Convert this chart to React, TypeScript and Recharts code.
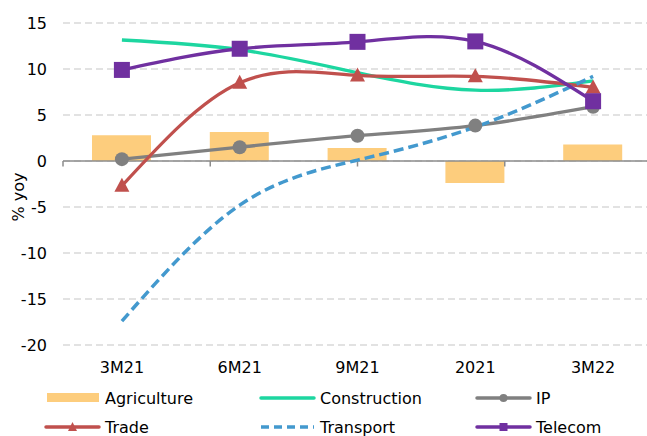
import React from 'react';
import { ComposedChart, Bar, Line, XAxis, YAxis, CartesianGrid, ReferenceLine, Legend, Label } from 'recharts';

// Growth by sector, % yoy
const periods = ['3M21', '6M21', '9M21', '2021', '3M22'];
const agriculture = [2.8, 3.15, 1.4, -2.4, 1.8];
const construction = [13.15, 12.1, 9.6, 7.7, 8.7];
const ip = [0.2, 1.5, 2.75, 3.85, 5.9];
const trade = [-2.7, 8.5, 9.3, 9.2, 8.0];
const transport = [-17.4, -4.8, 0.1, 3.7, 9.2];
const telecom = [9.9, 12.2, 12.95, 13.0, 6.5];
const yTicks = [-20, -15, -10, -5, 0, 5, 10, 15];
// category boundaries for the small ticks on the zero line
const boundaries = [0, 1, 2, 3, 4, 5];

const chartData = periods.map((period, i) => ({
  period,
  agriculture: agriculture[i],
  construction: construction[i],
  ip: ip[i],
  trade: trade[i],
  transport: transport[i],
  telecom: telecom[i],
}));

const FONT = '"DejaVu Sans", Verdana, sans-serif';
const FONT_SIZE = 16;

const COLORS = {
  agriculture: '#FDCD7D',
  construction: '#1DD6A0',
  ip: '#808080',
  trade: '#C0504D',
  transport: '#4399CE',
  telecom: '#7030A0',
};

const legendItems = [
  { name: 'Agriculture', color: COLORS.agriculture, kind: 'bar' },
  { name: 'Construction', color: COLORS.construction, kind: 'line' },
  { name: 'IP', color: COLORS.ip, kind: 'circle' },
  { name: 'Trade', color: COLORS.trade, kind: 'triangle' },
  { name: 'Transport', color: COLORS.transport, kind: 'dashed' },
  { name: 'Telecom', color: COLORS.telecom, kind: 'square' },
];

const CircleDot = (props: any) => {
  const { cx, cy, index } = props;
  if (cx == null || cy == null) return null;
  return <circle key={`ip-${index}`} cx={cx} cy={cy} r={7} fill={COLORS.ip} />;
};

const TriangleDot = (props: any) => {
  const { cx, cy, index } = props;
  if (cx == null || cy == null) return null;
  const pts = `${cx},${cy - 8} ${cx + 7.5},${cy + 6} ${cx - 7.5},${cy + 6}`;
  return <polygon key={`tr-${index}`} points={pts} fill={COLORS.trade} />;
};

const SquareDot = (props: any) => {
  const { cx, cy, index } = props;
  if (cx == null || cy == null) return null;
  return <rect key={`tc-${index}`} x={cx - 8} y={cy - 8} width={16} height={16} fill={COLORS.telecom} />;
};

function LegendMarker({ kind, color, x, y }: { kind: string; color: string; x: number; y: number }) {
  const w = 55;
  if (kind === 'bar') {
    return <rect x={x + 2} y={y - 5} width={52} height={9} fill={color} />;
  }
  const line =
    kind === 'dashed' ? (
      <line x1={x + 1} y1={y} x2={x + w - 1} y2={y} stroke={color} strokeWidth={3.5} strokeDasharray="8 5" />
    ) : (
      <line x1={x + 1} y1={y} x2={x + w - 1} y2={y} stroke={color} strokeWidth={3.5} strokeLinecap="round" />
    );
  const mx = x + w / 2;
  let marker = null;
  if (kind === 'circle') marker = <circle cx={mx} cy={y} r={4} fill={color} />;
  if (kind === 'square') marker = <rect x={mx - 4} y={y - 4} width={8} height={8} fill={color} />;
  if (kind === 'triangle') marker = <polygon points={`${mx},${y - 5} ${mx + 4.5},${y + 4} ${mx - 4.5},${y + 4}`} fill={color} />;
  return (
    <g>
      {line}
      {marker}
    </g>
  );
}

function renderLegend() {
  const colX = [45, 260, 476];
  const rowY = [17, 46];
  return (
    <svg width={647} height={56} style={{ display: 'block' }}>
      {legendItems.map((item, i) => {
        const x = colX[i % 3];
        const y = rowY[Math.floor(i / 3)];
        return (
          <g key={item.name}>
            <LegendMarker kind={item.kind} color={item.color} x={x} y={y} />
            <text x={x + 60} y={y} dy="0.36em" fontFamily={FONT} fontSize={FONT_SIZE} fill="#000">
              {item.name}
            </text>
          </g>
        );
      })}
    </svg>
  );
}

export default function App() {
  return (
    <div style={{ position: 'absolute', left: 0, top: 0, width: 647, height: 436, overflow: 'hidden', background: '#fff' }}>
      <ComposedChart width={652} height={440} data={chartData} margin={{ top: 23, right: 0, left: 0, bottom: 65 }}>
        <CartesianGrid vertical={false} stroke="#D9D9D9" strokeWidth={1.3} strokeDasharray="7 4" />
        <XAxis
          dataKey="period"
          axisLine={false}
          tickLine={false}
          tickMargin={11}
          tick={{ fill: '#000', fontSize: FONT_SIZE, fontFamily: FONT }}
        />
        <XAxis xAxisId="num" type="number" domain={[0, 5]} hide />
        <YAxis
          width={63}
          domain={[-20, 15]}
          ticks={yTicks}
          axisLine={false}
          tickLine={false}
          tickMargin={10}
          tick={{ fill: '#000', fontSize: FONT_SIZE, fontFamily: FONT }}
        >
          <Label
            content={(props: any) => {
              const vb = props.viewBox || { x: 0, y: 0, width: 0, height: 0 };
              const x = vb.x + 18;
              const y = vb.y + vb.height / 2 + 13;
              return (
                <text x={x} y={y} transform={`rotate(-90, ${x}, ${y})`} textAnchor="middle" dy="0.36em" fontFamily={FONT} fontSize={FONT_SIZE} fill="#000">
                  % yoy
                </text>
              );
            }}
          />
        </YAxis>
        <Bar dataKey="agriculture" name="Agriculture" fill={COLORS.agriculture} barSize={59} isAnimationActive={false} />
        <ReferenceLine y={0} stroke="#8C8C8C" strokeWidth={1.5} />
        {boundaries.map((b) => (
          <ReferenceLine
            key={`tick-${b}`}
            xAxisId="num"
            segment={[{ x: b, y: 0 }, { x: b, y: -0.6 }]}
            stroke="#8C8C8C"
            strokeWidth={1.5}
            ifOverflow="visible"
          />
        ))}
        <Line type="natural" dataKey="construction" name="Construction" stroke={COLORS.construction} strokeWidth={3.3} dot={false} isAnimationActive={false} />
        <Line type="natural" dataKey="ip" name="IP" stroke={COLORS.ip} strokeWidth={3.3} dot={CircleDot} isAnimationActive={false} />
        <Line type="natural" dataKey="trade" name="Trade" stroke={COLORS.trade} strokeWidth={3.3} dot={TriangleDot} isAnimationActive={false} />
        <Line
          type="natural"
          dataKey="transport"
          name="Transport"
          stroke={COLORS.transport}
          strokeWidth={3.5}
          strokeDasharray="10 5"
          dot={false}
          isAnimationActive={false}
        />
        <Line type="natural" dataKey="telecom" name="Telecom" stroke={COLORS.telecom} strokeWidth={3.3} dot={SquareDot} isAnimationActive={false} />
        <Legend
          layout="horizontal"
          verticalAlign="middle"
          align="center"
          wrapperStyle={{ left: 0, top: 381, width: 647 }}
          content={renderLegend}
        />
      </ComposedChart>
    </div>
  );
}
